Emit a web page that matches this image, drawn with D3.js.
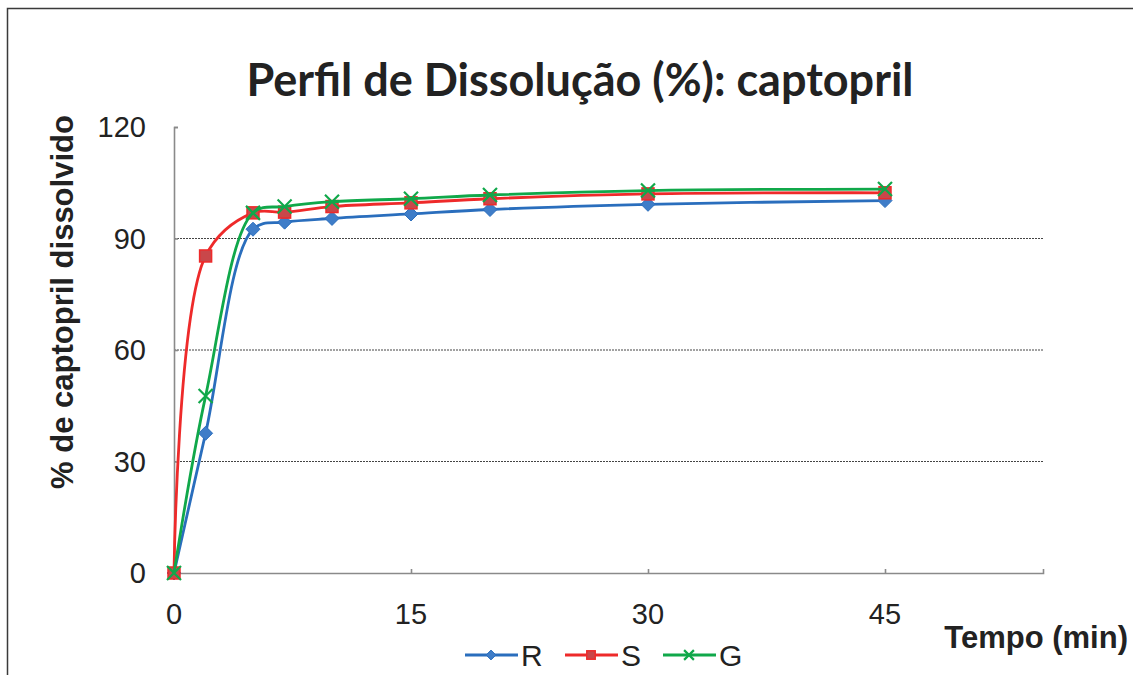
<!DOCTYPE html>
<html>
<head>
<meta charset="utf-8">
<script src="https://cdn.jsdelivr.net/npm/d3@7"></script>
<style>
  body { margin: 0; background: #fff; }
  svg { display: block; }
</style>
</head>
<body>
<div id="chart"></div>
<script>
// data
var tempo = [0, 2, 5, 7, 10, 15, 20, 30, 45];
var valoresR = [0, 37.6, 92.5, 94.4, 95.4, 96.6, 97.8, 99.2, 100.2];
var valoresS = [0, 85.3, 96.9, 97.1, 98.6, 99.6, 100.7, 102.0, 102.3];
var valoresG = [0, 47.6, 96.9, 98.6, 99.9, 100.7, 101.7, 102.9, 103.3];
var xTicks = [0, 15, 30, 45];
var yTicks = [0, 30, 60, 90, 120];
var seriesNames = ["R", "S", "G"];

var W = 1133, H = 675;
var margin = {left: 174, right: 90, top: 127, bottom: 102};

var svg = d3.select("#chart").append("svg")
    .attr("width", W)
    .attr("height", H);

// outer frame
svg.append("rect")
    .attr("x", 7.5).attr("y", 8.5)
    .attr("width", W + 10).attr("height", H + 10)
    .attr("fill", "none")
    .attr("stroke", "#3a3a3a")
    .attr("stroke-width", 1.5);

var x = d3.scaleLinear().domain([0, 55]).range([margin.left, W - margin.right]);
var y = d3.scaleLinear().domain([0, 120]).range([H - margin.bottom, margin.top]);

// dotted grid
svg.append("g").selectAll("line")
    .data([30, 60, 90])
    .enter().append("line")
    .attr("x1", x(0)).attr("x2", x(55))
    .attr("y1", function(d) { return y(d); })
    .attr("y2", function(d) { return y(d); })
    .attr("stroke", "#444")
    .attr("stroke-width", 1)
    .attr("stroke-dasharray", "2,1");

// axes, ticks pointing inside
var xAxis = d3.axisTop(x).tickValues(xTicks).tickSize(4).tickFormat("");
var yAxis = d3.axisRight(y).tickValues(yTicks).tickSize(4).tickFormat("");

var gx = svg.append("g")
    .attr("transform", "translate(0," + y(0) + ")")
    .call(xAxis);
var gy = svg.append("g")
    .attr("transform", "translate(" + x(0) + ",0)")
    .call(yAxis);
[gx, gy].forEach(function(g) {
    g.select(".domain").attr("stroke", "#8a8a8a").attr("stroke-width", 1.6);
    g.selectAll(".tick line").attr("stroke", "#8a8a8a").attr("stroke-width", 1.6);
});
gx.selectAll(".tick").filter(function(d) { return d === 0; }).remove();
gy.selectAll(".tick").filter(function(d) { return d === 0; }).remove();

// tick labels
svg.append("g").selectAll("text")
    .data(xTicks)
    .enter().append("text")
    .attr("x", function(d) { return x(d); })
    .attr("y", 624)
    .attr("text-anchor", "middle")
    .attr("font-family", "Liberation Sans, Arial, sans-serif")
    .attr("font-size", 29)
    .attr("fill", "#222")
    .text(function(d) { return d; });

svg.append("g").selectAll("text")
    .data(yTicks)
    .enter().append("text")
    .attr("x", 146)
    .attr("y", function(d) { return y(d) + 10; })
    .attr("text-anchor", "end")
    .attr("font-family", "Liberation Sans, Arial, sans-serif")
    .attr("font-size", 29)
    .attr("fill", "#222")
    .text(function(d) { return d; });

// titles
svg.append("text")
    .attr("x", 580).attr("y", 96)
    .attr("text-anchor", "middle")
    .attr("font-family", "Lato, 'Open Sans', sans-serif")
    .attr("font-weight", "bold")
    .attr("font-size", 45)
    .attr("fill", "#222")
    .text("Perfil de Dissolução (%): captopril");

svg.append("text")
    .attr("transform", "translate(73,302)rotate(-90)")
    .attr("text-anchor", "middle")
    .attr("font-family", "Liberation Sans, Arial, sans-serif")
    .attr("font-weight", "bold")
    .attr("font-size", 31)
    .attr("fill", "#222")
    .text("% de captopril dissolvido");

svg.append("text")
    .attr("x", 1128).attr("y", 648)
    .attr("text-anchor", "end")
    .attr("font-family", "Liberation Sans, Arial, sans-serif")
    .attr("font-weight", "bold")
    .attr("font-size", 31)
    .attr("fill", "#222")
    .text("Tempo (min)");

// series
var series = [
    {name: "R", values: valoresR, line: "#2a6ebd", fill: "#3f7dc8", marker: "diamond"},
    {name: "S", values: valoresS, line: "#ee2a2a", fill: "#c9474a", marker: "square"},
    {name: "G", values: valoresG, line: "#10a84a", fill: "none", marker: "cross"}
];

var line = d3.line()
    .x(function(d) { return x(d[0]); })
    .y(function(d) { return y(d[1]); })
    .curve(d3.curveCatmullRom.alpha(0.5));

function drawMarker(g, s, cx, cy, scale) {
    var k = scale || 1;
    if (s.marker === "diamond") {
        var r = 7 * k;
        g.append("path")
            .attr("d", "M" + cx + "," + (cy - r) + "L" + (cx + r) + "," + cy + "L" + cx + "," + (cy + r) + "L" + (cx - r) + "," + cy + "Z")
            .attr("fill", s.fill).attr("stroke", s.line).attr("stroke-width", 1);
    } else if (s.marker === "square") {
        var h = 6 * k;
        g.append("rect")
            .attr("x", cx - h).attr("y", cy - h)
            .attr("width", 2 * h).attr("height", 2 * h)
            .attr("fill", s.fill).attr("stroke", s.line).attr("stroke-width", 1.5);
    } else {
        var c = 7 * k;
        g.append("path")
            .attr("d", "M" + (cx - c) + "," + (cy - c) + "L" + (cx + c) + "," + (cy + c) + "M" + (cx + c) + "," + (cy - c) + "L" + (cx - c) + "," + (cy + c))
            .attr("stroke", s.line).attr("stroke-width", 2.2).attr("fill", "none");
    }
}

series.forEach(function(s) {
    var pts = tempo.map(function(t, i) { return [t, s.values[i]]; });
    var g = svg.append("g");
    g.append("path")
        .datum(pts)
        .attr("d", line)
        .attr("fill", "none")
        .attr("stroke", s.line)
        .attr("stroke-width", 2.8);
    pts.forEach(function(p) {
        drawMarker(g, s, x(p[0]), y(p[1]), 1);
    });
});

// legend
var legendX = [465, 565, 663];
series.forEach(function(s, i) {
    var lg = svg.append("g");
    var lx = legendX[i], ly = 655;
    lg.append("line")
        .attr("x1", lx).attr("x2", lx + 53)
        .attr("y1", ly).attr("y2", ly)
        .attr("stroke", s.line).attr("stroke-width", 2.8);
    drawMarker(lg, s, lx + 26, ly, 0.7);
    lg.append("text")
        .attr("x", lx + 56).attr("y", ly + 11)
        .attr("font-family", "Liberation Sans, Arial, sans-serif")
        .attr("font-size", 30)
        .attr("fill", "#222")
        .text(s.name);
});
</script>
</body>
</html>
